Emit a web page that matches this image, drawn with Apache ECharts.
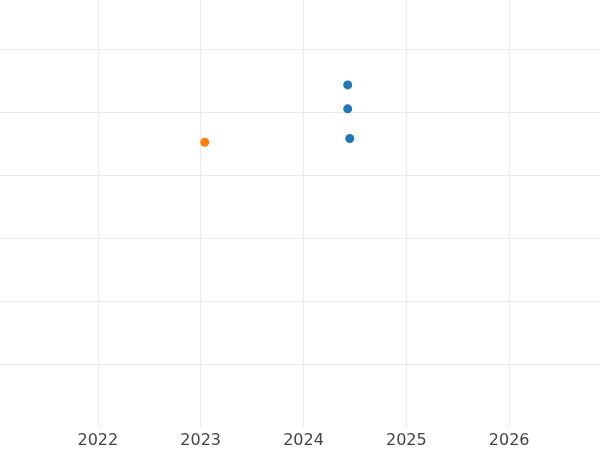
<!DOCTYPE html>
<html><head><meta charset="utf-8">
<script src="https://cdn.jsdelivr.net/npm/echarts@6/dist/echarts.min.js"></script>
<style>html,body{margin:0;padding:0;background:#fff;overflow:hidden;width:600px;height:450px}#c{position:absolute;left:-5px;top:0;width:617px;height:450px}</style>
</head><body><div id="c"></div>
<script>
var xTicks = [2022, 2023, 2024, 2025, 2026];
var blueX = [2024.43, 2024.43, 2024.45];
var blueY = [5.43, 5.05, 4.58];
var orangeX = [2023.04];
var orangeY = [4.52];

var chart = echarts.init(document.getElementById('c'));
chart.setOption({
  animation: false,
  grid: {left: 0, right: 0, top: 0, bottom: 23, containLabel: false},
  xAxis: {
    type: 'value', min: 2021, max: 2027, interval: 1,
    axisLine: {show: false}, axisTick: {show: false},
    axisLabel: {
      show: true, color: '#444', fontFamily: 'DejaVu Sans', fontSize: 16, margin: 6,
      showMinLabel: false, showMaxLabel: false,
      formatter: function (v) { return xTicks.indexOf(Math.round(v)) >= 0 ? String(Math.round(v)) : ''; }
    },
    splitLine: {show: true, showMinLine: false, showMaxLine: false, lineStyle: {color: '#ebebeb', width: 1}}
  },
  yAxis: {
    type: 'value', min: 0, max: 6.778, interval: 1,
    axisLine: {show: false}, axisTick: {show: false}, axisLabel: {show: false},
    splitLine: {show: true, showMinLine: false, showMaxLine: false, lineStyle: {color: '#ebebeb', width: 1}}
  },
  series: [
    {type: 'scatter', symbolSize: 9, itemStyle: {color: '#1f77b4', opacity: 1},
     data: blueX.map(function (x, i) { return [x, blueY[i]]; })},
    {type: 'scatter', symbolSize: 9, itemStyle: {color: '#ff7f0e', opacity: 1},
     data: orangeX.map(function (x, i) { return [x, orangeY[i]]; })}
  ]
});
</script></body></html>
